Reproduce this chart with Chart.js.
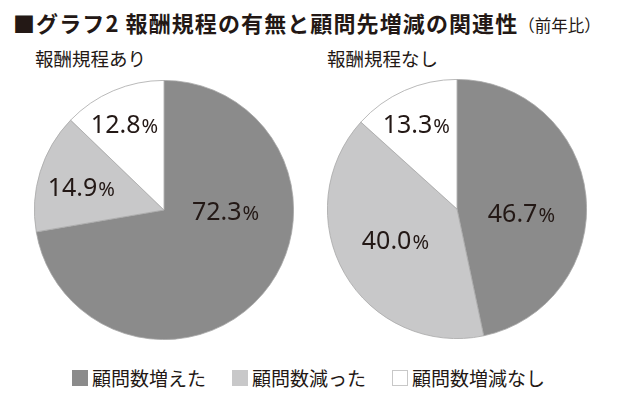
<!DOCTYPE html>
<html><head><meta charset="utf-8">
<script src="https://cdn.jsdelivr.net/npm/chart.js@4"></script>
<style>
html,body{margin:0;padding:0;background:#fff;}
body{width:620px;height:393px;position:relative;overflow:hidden;font-family:"Noto Sans CJK JP","Noto Sans",sans-serif;color:#231815;}
#title{position:absolute;left:13px;top:6px;font-size:22px;font-weight:bold;white-space:nowrap;letter-spacing:1.1px;}
#title span{font-size:16.5px;font-weight:normal;letter-spacing:0;}
.sub{position:absolute;top:45px;font-size:18.5px;white-space:nowrap;}
.wrap{position:absolute;width:260px;height:260px;}
#legend{position:absolute;left:72px;top:364px;display:flex;align-items:center;white-space:nowrap;font-size:19px;}
.item{display:flex;align-items:center;margin-right:26px;}
.box{width:16px;height:16px;margin-right:4px;box-sizing:border-box;}
</style></head><body>
<div id="title">■グラフ2 報酬規程の有無と顧問先増減の関連性<span>（前年比）</span></div>
<div class="sub" style="left:35px">報酬規程あり</div>
<div class="sub" style="left:327px">報酬規程なし</div>
<div class="wrap" style="left:34px;top:80px"><canvas id="c1" width="260" height="260"></canvas></div>
<div class="wrap" style="left:327px;top:79px"><canvas id="c2" width="260" height="260"></canvas></div>
<div id="legend"></div>
<script>
const categories = ["顧問数増えた", "顧問数減った", "顧問数増減なし"];
const withRules = [72.3, 14.9, 12.8];
const withoutRules = [46.7, 40.0, 13.3];
const colors = ["#8b8b8b", "#c8c8c9", "#ffffff"];
// label anchor offsets (fraction of radius from pie centre) – style only
const labelOffsets1 = [[0.471, 0.01], [-0.642, -0.179], [-0.309, -0.666]];
const labelOffsets2 = [[0.493, 0.033], [-0.479, 0.239], [-0.318, -0.655]];

const labelPlugin = {
  id: 'pctLabels',
  afterDatasetsDraw(chart) {
    const ctx = chart.ctx;
    const meta = chart.getDatasetMeta(0);
    const offs = chart.options.plugins.pctLabels.offsets;
    const data = chart.data.datasets[0].data;
    meta.data.forEach((arc, i) => {
      const r = arc.outerRadius;
      const cx = arc.x + offs[i][0] * r;
      const cy = arc.y + offs[i][1] * r;
      const num = data[i].toFixed(1);
      ctx.save();
      ctx.fillStyle = '#231815';
      ctx.textBaseline = 'alphabetic';
      ctx.textAlign = 'left';
      const f1 = '25px "Noto Sans", sans-serif';
      const f2 = '20px "Noto Sans", sans-serif';
      ctx.font = f1; const w1 = ctx.measureText(num).width;
      ctx.font = f2; const w2 = ctx.measureText('%').width;
      const x0 = cx - (w1 + w2) / 2;
      const base = cy + 9;
      ctx.font = f1; ctx.fillText(num, x0, base);
      ctx.font = f2; ctx.fillText('%', x0 + w1 + 1, base);
      ctx.restore();
    });
  }
};

function makePie(id, values, offsets) {
  return new Chart(document.getElementById(id), {
    type: 'pie',
    data: {
      labels: categories,
      datasets: [{
        data: values,
        backgroundColor: colors,
        borderColor: '#a8a8a8',
        borderWidth: 0.8,
        hoverOffset: 0,
        offset: 0
      }]
    },
    options: {
      responsive: false,
      animation: false,
      events: [],
      layout: { padding: 0 },
      plugins: {
        legend: { display: false },
        tooltip: { enabled: false },
        pctLabels: { offsets: offsets }
      }
    },
    plugins: [labelPlugin]
  });
}
makePie('c1', withRules, labelOffsets1);
makePie('c2', withoutRules, labelOffsets2);

const legend = document.getElementById('legend');
categories.forEach((c, i) => {
  const it = document.createElement('div'); it.className = 'item';
  const b = document.createElement('div'); b.className = 'box';
  b.style.background = colors[i];
  if (i === 2) b.style.border = '1px solid #c8c8c8';
  const t = document.createElement('span'); t.textContent = c;
  it.appendChild(b); it.appendChild(t); legend.appendChild(it);
});
</script>
</body></html>
